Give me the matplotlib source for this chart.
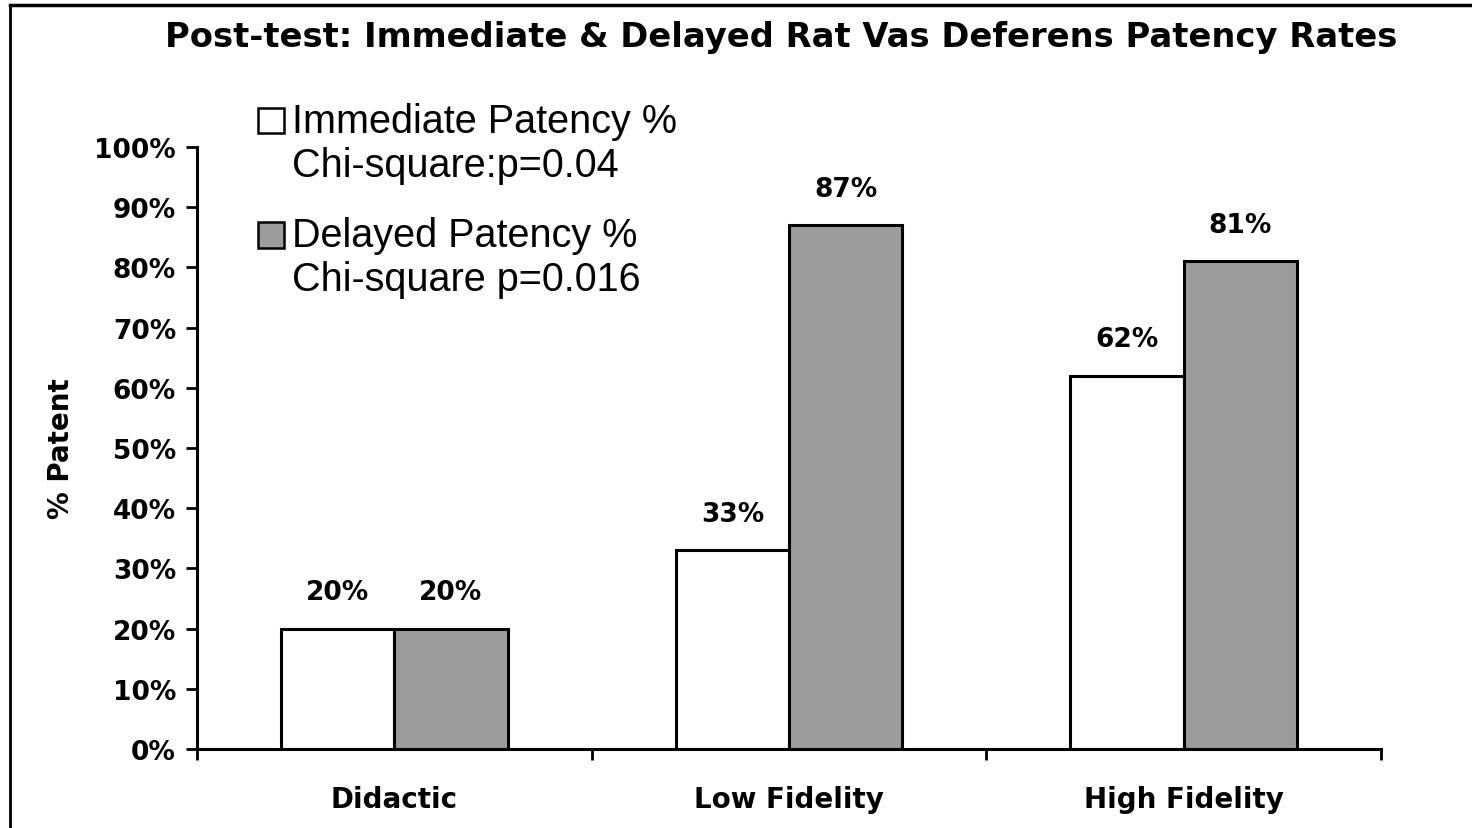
import numpy as np
import matplotlib.pyplot as plt
from matplotlib.patches import Rectangle
from matplotlib.lines import Line2D

plt.rcParams['font.family'] = ['DejaVu Sans']

# data
groups = ['Didactic', 'Low Fidelity', 'High Fidelity']
immediate = [20, 33, 62]
delayed = [20, 87, 81]
series_labels = ['Immediate Patency %\nChi-square:p=0.04',
                 'Delayed Patency %\nChi-square p=0.016']
yticks = list(range(0, 101, 10))

fig = plt.figure(figsize=(14.72, 8.29), dpi=100)
ax = fig.add_axes([0.1338, 0.0953, 0.8044, 0.7262])

x = np.arange(len(groups)) + 0.5
w = 0.287
b1 = ax.bar(x - w / 2, immediate, w, color='white', edgecolor='black', linewidth=2.2)
b2 = ax.bar(x + w / 2, delayed, w, color='#9c9c9c', edgecolor='black', linewidth=2.2)

for bars, vals in ((b1, immediate), (b2, delayed)):
    for r, v in zip(bars, vals):
        ax.annotate(f'{v}%', (r.get_x() + r.get_width() / 2, v), xytext=(0, 17),
                    textcoords='offset points', ha='center', va='bottom',
                    fontsize=19, fontweight='bold')

ax.set_xlim(0, 3)
ax.set_ylim(0, 100)
ax.set_yticks(yticks)
ax.set_yticklabels([f'{t}%' for t in yticks], fontsize=19, fontweight='bold')
ax.set_xticks([0, 1, 2, 3])
ax.set_xticklabels([])
ax.set_xticks(x, minor=True)
ax.set_xticklabels(groups, minor=True, fontsize=20, fontweight='bold')
ax.tick_params(axis='x', which='minor', length=0, pad=26)
ax.tick_params(axis='x', which='major', length=8, width=2, direction='out')
ax.tick_params(axis='y', length=8, width=2, direction='out', pad=7)
for s in ('top', 'right'):
    ax.spines[s].set_visible(False)
for s in ('left', 'bottom'):
    ax.spines[s].set_linewidth(2.2)

ax.set_ylabel('% Patent', fontsize=20, fontweight='bold', labelpad=14)

fig.text(0.5306, 0.955, 'Post-test: Immediate & Delayed Rat Vas Deferens Patency Rates',
         ha='center', va='center', fontsize=24.3, fontweight='bold')

# legend drawn by hand: swatch aligned with first line
for i, (lab, fc) in enumerate(zip(series_labels, ['white', '#9c9c9c'])):
    ytop = 0.869 - i * 0.138
    fig.patches.append(Rectangle((0.1755, ytop - 0.031), 0.0175, 0.031,
                                 transform=fig.transFigure, facecolor=fc,
                                 edgecolor='black', linewidth=1.8))
    fig.text(0.1985, ytop + 0.007, lab, ha='left', va='top', fontsize=28.5,
             linespacing=1.2, family=['Liberation Sans', 'DejaVu Sans'])

# frame
fig.add_artist(Line2D([0.0065, 1.0], [0.9925, 0.9925], transform=fig.transFigure,
                      color='black', linewidth=2.5))
fig.add_artist(Line2D([0.0065, 0.0065], [0.0, 0.9925], transform=fig.transFigure,
                      color='black', linewidth=2.0))

fig.savefig('out.png', dpi=100)
